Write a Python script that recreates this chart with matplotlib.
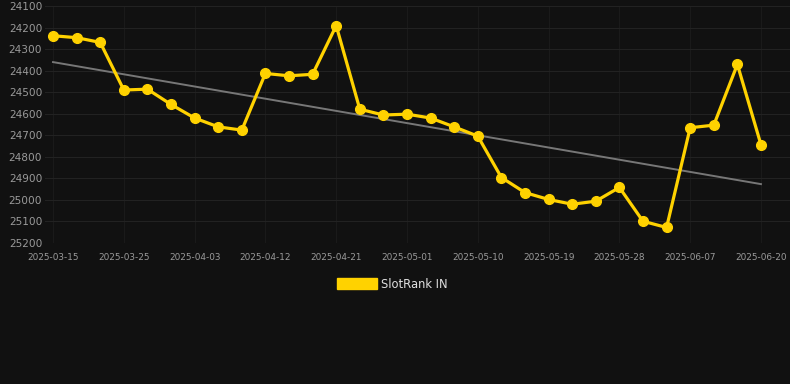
import numpy as np
import matplotlib
matplotlib.use('Agg')
import matplotlib.pyplot as plt
from matplotlib.patches import Patch

# Dates (category axis, a label every 3rd point)
dates = ['2025-03-15', '2025-03-18', '2025-03-22', '2025-03-25', '2025-03-28', '2025-03-31',
         '2025-04-03', '2025-04-06', '2025-04-09', '2025-04-12', '2025-04-15', '2025-04-18',
         '2025-04-21', '2025-04-24', '2025-04-28', '2025-05-01', '2025-05-04', '2025-05-07',
         '2025-05-10', '2025-05-13', '2025-05-16', '2025-05-19', '2025-05-22', '2025-05-25',
         '2025-05-28', '2025-05-31', '2025-06-04', '2025-06-07', '2025-06-11', '2025-06-16',
         '2025-06-20']
rank = [24238, 24247, 24269, 24490, 24486, 24557, 24620, 24661, 24676, 24413, 24424, 24417,
        24191, 24579, 24606, 24602, 24620, 24661, 24704, 24896, 24966, 24998, 25020, 25006,
        24942, 25099, 25128, 24665, 24653, 24371, 24744]
yticks = [24100, 24200, 24300, 24400, 24500, 24600, 24700, 24800, 24900, 25000, 25100, 25200]

bg = '#111111'
gold = '#FFD200'

fig = plt.figure(figsize=(7.9, 3.84), dpi=100, facecolor=bg)
ax = fig.add_axes([45 / 790, 1 - 243 / 384, 745 / 790, 237 / 384], facecolor=bg)

x = np.arange(len(rank))
ax.plot(x, rank, color=gold, lw=2.3, marker='o', ms=7, zorder=3)

# linear trend
k, b = np.polyfit(x, rank, 1)
ax.plot(x, k * x + b, color='#777777', lw=1.4, zorder=2)

ax.set_ylim(25200, 24100)
ax.set_yticks(yticks)
ax.set_xlim(-0.34, 31.23)
ax.set_xticks(x[::3])
ax.set_xticklabels(dates[::3])

ax.yaxis.grid(True, color='#222222', lw=0.8)
ax.xaxis.grid(True, color='#1a1a1a', lw=0.8)
ax.set_axisbelow(True)
for s in ax.spines.values():
    s.set_visible(False)
ax.tick_params(axis='y', length=0, labelsize=7.6, labelcolor='#9a9a9a', pad=2)
ax.tick_params(axis='x', length=0, labelsize=6.4, labelcolor='#9a9a9a', pad=7)

fig.legend(handles=[Patch(color=gold, label='SlotRank IN')], loc='center',
           bbox_to_anchor=(0.497, 1 - 284 / 384), frameon=False, fontsize=8.3,
           labelcolor='#e0e0e0', handlelength=3.4, handleheight=1.0, handletextpad=0.4)

fig.savefig('out.png', dpi=100, facecolor=bg)
